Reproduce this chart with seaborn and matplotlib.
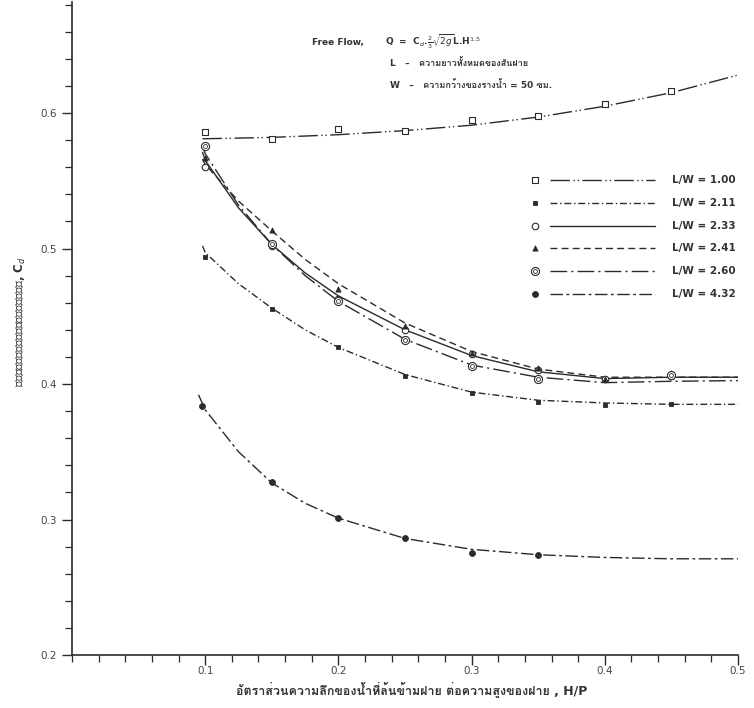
import numpy as np
import pandas as pd
import seaborn as sns
import matplotlib.pyplot as plt
from matplotlib import font_manager
from matplotlib.ft2font import FT2Font
from matplotlib.ticker import MultipleLocator, FixedLocator

sns.set_style('ticks')

# find an installed family that has Thai glyphs
thai_family = None
for f in font_manager.fontManager.ttflist:
    try:
        if ord('ก') in FT2Font(f.fname).get_charmap():
            thai_family = f.name
            break
    except Exception:
        pass
families = ['DejaVu Sans', 'Noto Sans', 'Noto Sans CJK SC']
if thai_family:
    families = ['DejaVu Sans', thai_family, 'Noto Sans']
plt.rcParams['font.family'] = families

# measured points, H/P vs Cd
hp_pts = [0.10, 0.15, 0.20, 0.25, 0.30, 0.35, 0.40, 0.45]
cd_100 = [0.586, 0.581, 0.588, 0.587, 0.595, 0.598, 0.607, 0.616]
cd_211 = [0.494, 0.455, 0.427, 0.406, 0.393, 0.3865, 0.3845, 0.385]
cd_233 = [0.560, 0.502, 0.463, 0.440, 0.422, 0.410, 0.404, 0.406]
cd_241 = [0.567, 0.514, 0.470, 0.443, 0.423, 0.412, 0.4035, 0.408]
cd_260 = [0.576, 0.503, 0.461, 0.4325, 0.4135, 0.404, np.nan, 0.407]
hp_pts_432 = [0.0975, 0.15, 0.20, 0.25, 0.30, 0.35]
cd_432 = [0.384, 0.328, 0.301, 0.286, 0.275, 0.274]

# hand-drawn fitted curves
hp_fit = [0.098, 0.10, 0.125, 0.15, 0.175, 0.20, 0.25, 0.30, 0.35, 0.40, 0.45, 0.50]
fit_100 = [0.581, 0.581, 0.5815, 0.582, 0.583, 0.584, 0.587, 0.591, 0.597, 0.605, 0.615, 0.628]
fit_211 = [0.502, 0.497, 0.474, 0.456, 0.440, 0.427, 0.407, 0.394, 0.388, 0.386, 0.385, 0.385]
fit_233 = [0.571, 0.565, 0.530, 0.503, 0.482, 0.465, 0.440, 0.421, 0.409, 0.404, 0.405, 0.405]
fit_241 = [0.566, 0.562, 0.535, 0.513, 0.492, 0.474, 0.445, 0.424, 0.411, 0.405, 0.405, 0.405]
fit_260 = [0.576, 0.570, 0.532, 0.503, 0.480, 0.461, 0.433, 0.414, 0.405, 0.401, 0.402, 0.4025]
hp_fit_432 = [0.095, 0.10, 0.125, 0.15, 0.175, 0.20, 0.25, 0.30, 0.35, 0.40, 0.45, 0.50]
fit_432 = [0.392, 0.381, 0.350, 0.327, 0.312, 0.301, 0.286, 0.278, 0.274, 0.272, 0.271, 0.271]

labels = ['L/W = 1.00', 'L/W = 2.11', 'L/W = 2.33', 'L/W = 2.41', 'L/W = 2.60', 'L/W = 4.32']
x_ticks = [0.1, 0.2, 0.3, 0.4, 0.5]
y_ticks = [0.2, 0.3, 0.4, 0.5, 0.6]

ink = '#2b2b2b'
txt = '#333333'
W, H = 754, 708


def fx(px):
    return px / W


def fy(py):
    return 1 - py / H


series = [
    (hp_pts, cd_100, hp_fit, fit_100, (0, (14, 2.5, 1, 2, 1, 2.5)), dict(marker='s', s=14, facecolor='white', edgecolor=ink, linewidth=0.8)),
    (hp_pts, cd_211, hp_fit, fit_211, (0, (5, 2, 1, 2)), dict(marker='s', s=12, facecolor=ink, edgecolor=ink, linewidth=0.6)),
    (hp_pts, cd_233, hp_fit, fit_233, '-', dict(marker='o', s=22, facecolor='white', edgecolor=ink, linewidth=0.8)),
    (hp_pts, cd_241, hp_fit, fit_241, (0, (5, 3)), dict(marker='^', s=14, facecolor=ink, edgecolor=ink, linewidth=0.6)),
    (hp_pts, cd_260, hp_fit, fit_260, (0, (12, 3, 1.5, 3)), dict(marker='o', s=34, facecolor='white', edgecolor=ink, linewidth=0.8)),
    (hp_pts_432, cd_432, hp_fit_432, fit_432, (0, (9, 2.5, 2, 2.5)), dict(marker='o', s=18, facecolor=ink, edgecolor=ink, linewidth=0.6)),
]

fig = plt.figure(figsize=(W / 100, H / 100), dpi=100)
ax = fig.add_axes([fx(72), fy(655), fx(738) - fx(72), fy(2) - fy(655)])

for i, (xp, yp, xf, yf, ls, mk) in enumerate(series):
    sns.lineplot(x=xf, y=yf, ax=ax, color=ink, linewidth=1.0, linestyle=ls,
                 sort=False, estimator=None, zorder=2)
    sns.scatterplot(x=xp, y=yp, ax=ax, zorder=3, **mk)
    if i == 4:
        # double ring marker
        sns.scatterplot(x=xp, y=yp, ax=ax, zorder=4, marker='o', s=8,
                        facecolor='white', edgecolor=ink, linewidth=0.6)

ax.set_xlim(0, 0.5)
ax.set_ylim(0.2, 0.2 + 653 / 1355)
ax.xaxis.set_major_locator(FixedLocator(x_ticks))
ax.xaxis.set_minor_locator(MultipleLocator(0.02))
ax.yaxis.set_major_locator(FixedLocator(y_ticks))
ax.yaxis.set_minor_locator(MultipleLocator(0.02))
ax.set_xticklabels([f'{v:.1f}' for v in x_ticks])
ax.set_yticklabels([f'{v:.1f}' for v in y_ticks])
ax.tick_params(which='major', length=7, width=1.0, color=ink, labelsize=7.5, labelcolor='#444444')
ax.tick_params(axis='x', which='major', pad=1)
ax.tick_params(axis='y', which='major', pad=4)
ax.tick_params(which='minor', length=5, width=0.9, color=ink)
for side in ['top', 'right']:
    ax.spines[side].set_visible(False)
for side in ['left', 'bottom']:
    ax.spines[side].set_color(ink)
    ax.spines[side].set_linewidth(1.2)
ax.set_xlabel('')
ax.set_ylabel('')
ax.set_facecolor('none')

fig.text(fx(412), fy(689), 'อัตราส่วนความลึกของน้ำที่ล้นข้ามฝาย ต่อความสูงของฝาย , H/P',
         fontsize=9, fontweight='bold', color=txt, ha='center', va='center')
fig.text(fx(20), fy(322), 'สัมประสิทธิ์การไหล, C$_d$', rotation=90,
         fontsize=8.5, fontweight='bold', color=txt, ha='center', va='center')

# formula note
fig.text(fx(312), fy(42), 'Free Flow,', fontsize=6.5, fontweight='bold', color=txt, va='center')
fig.text(fx(385), fy(42), r'Q  =  C$_d$.$\frac{2}{3}\sqrt{2g}$L.H$^{1.5}$', fontsize=6.5,
         fontweight='bold', color=txt, va='center')
fig.text(fx(390), fy(63), 'L   –   ความยาวทั้งหมดของสันฝาย', fontsize=6.5, fontweight='bold',
         color=txt, va='center')
fig.text(fx(390), fy(85), 'W   –   ความกว้างของรางน้ำ = 50 ซม.', fontsize=6.5, fontweight='bold',
         color=txt, va='center')

# legend: marker, line sample, label
for i, (xp, yp, xf, yf, ls, mk) in enumerate(series):
    ry = fy(180 + 22.8 * i)
    ax.scatter([fx(535)], [ry], transform=fig.transFigure, clip_on=False, zorder=5, **mk)
    if i == 4:
        ax.scatter([fx(535)], [ry], transform=fig.transFigure, clip_on=False, zorder=6,
                   marker='o', s=8, facecolor='white', edgecolor=ink, linewidth=0.6)
    fig.add_artist(plt.Line2D([fx(550), fx(655)], [ry, ry], color=ink, linewidth=1.0, linestyle=ls))
    fig.text(fx(672), ry, labels[i], fontsize=7.5, fontweight='bold', color=txt, va='center')

fig.savefig('out.png', dpi=100)
